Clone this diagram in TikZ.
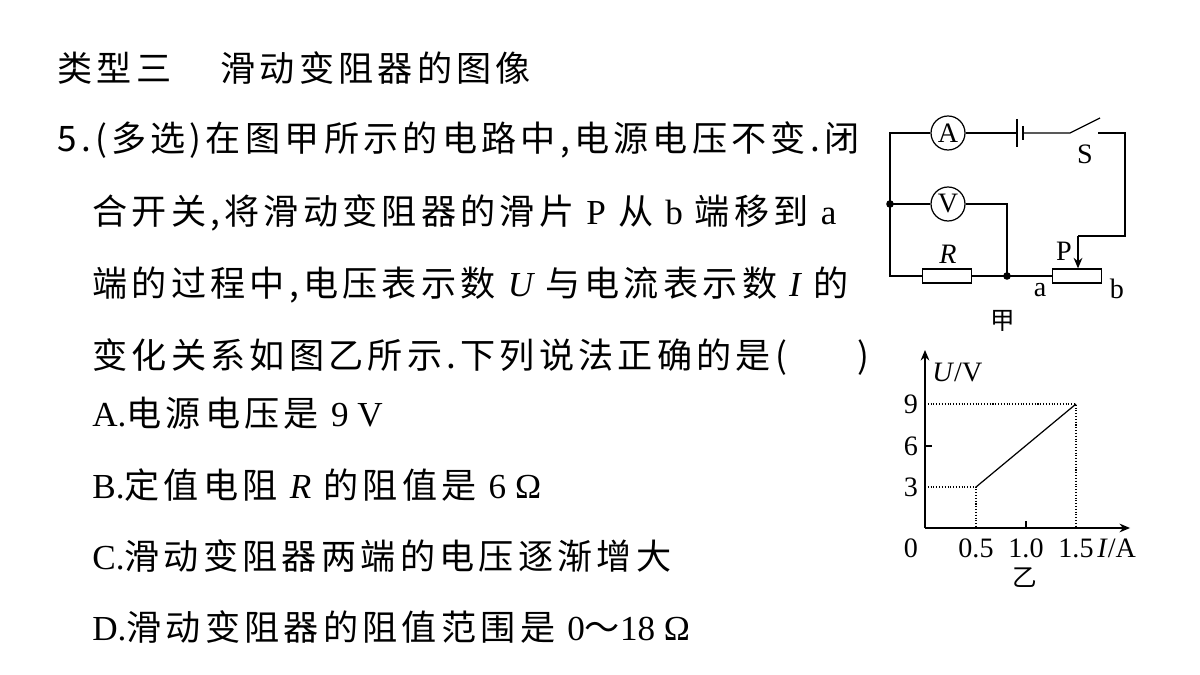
\documentclass[tikz,border=0pt]{standalone}
\usepackage{fontspec}
\usetikzlibrary{arrows.meta}
\setmainfont{Liberation Serif}
\newfontfamily\cjk[LetterSpace=12]{Noto Sans CJK SC}
\newfontfamily\cjkn{Noto Sans CJK SC}
\begin{document}
\begin{tikzpicture}[x=0.02cm,y=-0.02cm,
  txt/.style={anchor=west,inner sep=0pt,font=\fontsize{20}{22}\selectfont\cjk},
  sm/.style={inner sep=0pt,font=\fontsize{16}{18}\selectfont},
  w/.style={line width=0.7pt},
  meter/.style={circle,draw,line width=0.7pt,minimum size=0.68cm,inner sep=0pt,font=\fontsize{16}{18}\selectfont},
  res/.style={draw,line width=0.7pt,minimum width=0.98cm,minimum height=0.28cm,inner sep=0pt},
  dt/.style={densely dotted,line width=0.6pt}]
\useasboundingbox (0,0) rectangle (1200,675);
\node[txt] (t0) at (57,68) {类型三\hspace{1.4em}滑动变阻器的图像};
\node[txt] (l1) at (57,140) {5.(多选)在图甲所示的电路中,电源电压不变.闭};
\node[txt] (l2) at (92,213) {合开关,将滑动变阻器的滑片 {\rmfamily P} 从 {\rmfamily b} 端移到 {\rmfamily a}};
\node[txt] (l3) at (92,285) {端的过程中,电压表示数 {\rmfamily\itshape U} 与电流表示数 {\rmfamily\itshape I} 的};
\node[txt] (l4) at (92,357) {变化关系如图乙所示.下列说法正确的是(\hspace{2em})};
\node[txt] (o1) at (92,413) {{\rmfamily A.}电源电压是 {\rmfamily 9 V}};
\node[txt] (o2) at (92,485) {{\rmfamily B.}定值电阻 {\rmfamily\itshape R} 的阻值是 {\rmfamily 6 Ω}};
\node[txt] (o3) at (92,556) {{\rmfamily C.}滑动变阻器两端的电压逐渐增大};
\node[txt] (o4) at (92,627) {{\rmfamily D.}滑动变阻器的阻值范围是 {\rmfamily 0}{\cjkn ～}{\rmfamily 18 Ω}};
% circuit
\node[meter] (A) at (948,133) {A};
\node[meter] (V) at (948,204) {V};
\node[res] (R) at (947,276) {};
\node[res] (Rh) at (1077,276) {};
\coordinate (tl) at (890,133);
\coordinate (ml) at (890,204);
\coordinate (bl) at (890,276);
\coordinate (jn) at (1007,276);
\coordinate (b1) at (1017,133);
\coordinate (b2) at (1023,133);
\coordinate (s1) at (1070,133);
\coordinate (s2) at (1100,118);
\coordinate (s3) at (1098,133);
\coordinate (tr) at (1125,133);
\coordinate (pr) at (1125,236);
\coordinate (pp) at (1078,236);
\draw[w] (A) -- (tl) -- (bl) -- (R.west);
\draw[w] (A) -- (b1);
\draw[w] (1017,119) -- (1017,147);
\draw[w] (1023,126) -- (1023,140);
\draw[w] (b2) -- (s1) -- (s2);
\draw[w] (s3) -- (tr) -- (pr) -- (pp);
\draw[w,-{Stealth[length=6pt,width=5pt]}] (pp) -- (Rh.north -| pp);
\draw[w] (ml) -- (V) -- (1007,204) -- (jn);
\draw[w] (R.east) -- (Rh.west);
\fill (ml) circle (3.8); \fill (jn) circle (3.8);
\node[sm] (S) at (1085,154) {S};
\node[sm] (Rl) at (948,254) {\itshape R};
\node[sm] (Pl) at (1064,251) {P};
\node[sm] (al) at (1040,290) {a};
\node[sm] (bb) at (1117,289) {b};
\node[sm,font=\fontsize{14}{16}\selectfont\cjkn] (jia) at (1003,321) {甲};
% graph
\coordinate (O) at (925,528);
\draw[w,-{Stealth[length=6pt,width=5pt]}] (O) -- (925,350);
\draw[w,-{Stealth[length=6pt,width=5pt]}] (O) -- (1130,528);
\draw[dt] (925,404) -- (1076,404) -- (1076,528);
\draw[dt] (925,487) -- (976,487) -- (976,528);
\draw[w] (976,487) -- (1076,404);
\draw[w] (925,446) -- (932,446);
\draw[w] (1026,528) -- (1026,521);
\node[sm] at (911,404) {9};
\node[sm] at (911,446) {6};
\node[sm] at (911,487) {3};
\node[sm] at (911,548) {0};
\node[sm] at (976,548) {0.5};
\node[sm] at (1026,548) {1.0};
\node[sm] at (1076,548) {1.5};
\node[sm,anchor=west] at (932,372) {\itshape U\/\upshape/V};
\node[sm,anchor=west] at (1097,548) {\itshape I\/\upshape/A};
\node[sm,font=\fontsize{14}{16}\selectfont\cjkn] at (1025,578) {乙};
\end{tikzpicture}
\end{document}
